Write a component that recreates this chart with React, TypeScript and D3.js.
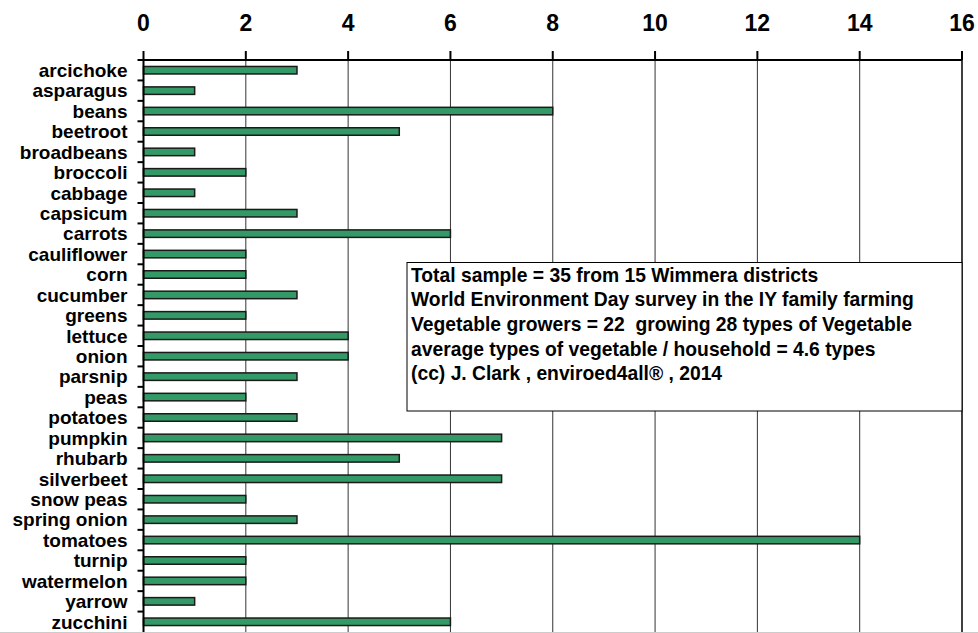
import React from 'react'
import { scaleLinear, scaleBand } from 'd3'

// vegetables grown, number of households
const categories = [
  'arcichoke', 'asparagus', 'beans', 'beetroot', 'broadbeans', 'broccoli', 'cabbage',
  'capsicum', 'carrots', 'cauliflower', 'corn', 'cucumber', 'greens', 'lettuce', 'onion',
  'parsnip', 'peas', 'potatoes', 'pumpkin', 'rhubarb', 'silverbeet', 'snow peas',
  'spring onion', 'tomatoes', 'turnip', 'watermelon', 'yarrow', 'zucchini',
]
const counts = [3, 1, 8, 5, 1, 2, 1, 3, 6, 2, 2, 3, 2, 4, 4, 3, 2, 3, 7, 5, 7, 2, 3, 14, 2, 2, 1, 6]
const xTicks = [0, 2, 4, 6, 8, 10, 12, 14, 16]
const noteLines = [
  'Total sample = 35 from 15 Wimmera districts',
  'World Environment Day survey in the IY family farming',
  'Vegetable growers = 22  growing 28 types of Vegetable',
  'average types of vegetable / household = 4.6 types',
  '(cc) J. Clark , enviroed4all\u00ae , 2014',
]

const App = () => {
  const width = 978
  const height = 633
  const margin = { top: 60, right: 16, bottom: 1, left: 143.5 }
  const innerWidth = width - margin.left - margin.right
  const innerHeight = height - margin.top - margin.bottom

  const xScale = scaleLinear().domain([0, 16]).range([0, innerWidth])
  const yScale = scaleBand().domain(categories).range([0, innerHeight])
  const bw = yScale.bandwidth()
  const barH = 7.5

  const font = "'Liberation Sans', Arial, sans-serif"

  return (
    <svg width={width} height={height}
      style={{ position: 'absolute', left: 0, top: 0, background: '#fff', fontFamily: font, fontWeight: 'bold' }}>
      <rect width={width} height={height} fill='#fff' />
      <g transform={`translate(${margin.left},${margin.top})`}>
        {/* grid lines */}
        {xTicks.filter(t => t > 0 && t < 16).map(t => (
          <line key={'g' + t} x1={xScale(t)} x2={xScale(t)} y1={0} y2={innerHeight} stroke='#333' strokeWidth={1} />
        ))}

        {/* bars */}
        {categories.map((c, i) => (
          <rect key={c}
            x={0}
            y={(yScale(c) as number) + bw / 2 - barH / 2}
            width={xScale(counts[i])}
            height={barH}
            fill='#339966'
            stroke='#1a1a1a'
            strokeWidth={1.5} />
        ))}

        {/* right border and bottom */}
        <line x1={xScale(16)} x2={xScale(16)} y1={0} y2={innerHeight} stroke='#000' strokeWidth={1.5} />
        <line x1={-margin.left} x2={width - margin.left} y1={innerHeight + 0.5} y2={innerHeight + 0.5} stroke='#ccc' strokeWidth={1} />

        {/* top axis */}
        <line x1={0} x2={xScale(16)} y1={0} y2={0} stroke='#000' strokeWidth={2} />
        {xTicks.map(t => (
          <g key={t} transform={`translate(${xScale(t)},0)`}>
            <line y1={0} y2={-9} stroke='#000' strokeWidth={2} />
            <text y={-29.5} textAnchor='middle' fontSize={23} fill='#000'>{t}</text>
          </g>
        ))}

        {/* left axis */}
        <line x1={0} x2={0} y1={-1} y2={innerHeight} stroke='#000' strokeWidth={2} />
        {categories.map(c => (
          <line key={'t' + c} x1={0} x2={-6} y1={yScale(c)} y2={yScale(c)} stroke='#000' strokeWidth={2} />
        ))}
        {categories.map(c => (
          <text key={'l' + c} x={-16} y={(yScale(c) as number) + bw / 2} dy='0.36em'
            textAnchor='end' fontSize={19} fill='#000'>{c}</text>
        ))}
      </g>

      {/* note box */}
      <g transform='translate(407,262.5)'>
        <rect x={0} y={0} width={555} height={148.5} fill='#fff' stroke='#000' strokeWidth={1} />
        {noteLines.map((s, i) => (
          <text key={i} x={4} y={19.2 + i * 24.6} fontSize={19.3} fill='#000' style={{ whiteSpace: 'pre' }}>{s}</text>
        ))}
      </g>
    </svg>
  )
}

export default App
